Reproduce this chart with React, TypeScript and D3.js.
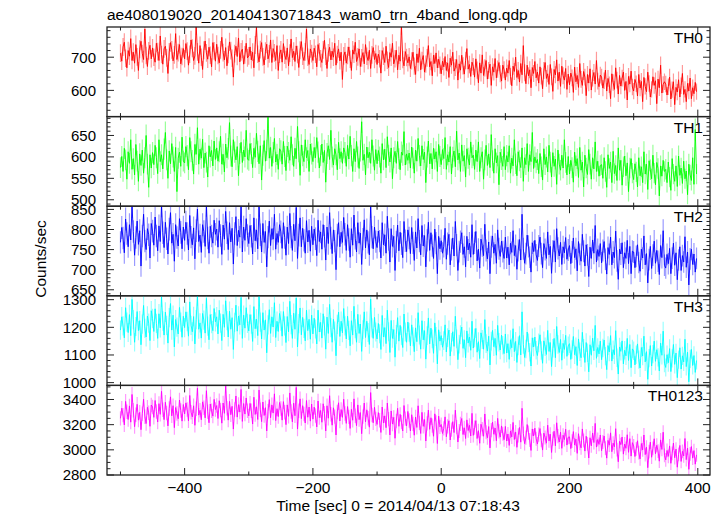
import React from "react";
import * as d3 from "d3";

const TITLE = "ae408019020_20140413071843_wam0_trn_4band_long.qdp";
const X_LABEL = "Time [sec] 0 = 2014/04/13 07:18:43";
const Y_LABEL = "Counts/sec";
const BIN_START = -500;
const BIN_SIZE = 2;
const X_MAJOR = [-400, -200, 0, 200, 400];
const X_MINOR = [-500, -300, -100, 100, 300];
const PANEL_NAMES = ["TH0", "TH1", "TH2", "TH3", "TH0123"];

const TH0 = [
  712, 688, 731, 745, 697, 668, 720, 703, 756, 690, 715, 682, 738, 701, 660, 724, 748, 711, 693, 785, 705, 672, 719, 736, 695,
  728, 700, 685, 742, 717, 690, 764, 708, 679, 725, 733, 698, 651, 716, 744, 722, 689, 707, 771, 693, 714, 738, 680, 702, 726,
  695, 741, 718, 676, 709, 752, 727, 690, 704, 795, 716, 682, 735, 700, 663, 721, 749, 713, 694, 730, 706, 671, 744, 719, 688,
  739, 705, 683, 722, 760, 714, 692, 729, 674, 708, 746, 720, 697, 640, 711, 733, 702, 758, 686, 716, 724, 679, 707, 742, 698,
  704, 731, 692, 715, 668, 737, 790, 709, 686, 723, 744, 701, 677, 718, 739, 695, 710, 752, 684, 726, 713, 690, 735, 660, 709,
  722, 685, 741, 706, 693, 728, 674, 712, 755, 699, 718, 687, 734, 708, 669, 721, 747, 703, 690, 716, 785, 700, 678, 725, 711,
  690, 727, 709, 671, 738, 716, 695, 684, 722, 751, 703, 666, 713, 730, 692, 718, 700, 742, 676, 708, 725, 689, 715, 633, 704,
  716, 682, 705, 731, 694, 660, 722, 709, 745, 687, 701, 725, 672, 698, 714, 680, 738, 703, 690, 721, 666, 707, 729, 693, 711,
  678, 709, 695, 652, 720, 703, 684, 733, 691, 669, 714, 700, 742, 680, 695, 721, 662, 706, 688, 796, 693, 674, 717, 699, 683,
  701, 666, 689, 715, 673, 648, 710, 684, 727, 662, 690, 705, 655, 679, 698, 735, 671, 687, 644, 706, 681, 713, 668, 694, 676,
  650, 688, 671, 702, 660, 683, 639, 697, 676, 715, 658, 669, 693, 631, 680, 661, 706, 674, 649, 690, 726, 664, 678, 642, 685,
  672, 640, 695, 661, 623, 683, 652, 707, 645, 668, 690, 634, 660, 679, 615, 671, 655, 696, 638, 664, 684, 650, 628, 676, 662,
  631, 667, 652, 690, 642, 614, 673, 657, 700, 639, 660, 625, 681, 647, 735, 653, 620, 676, 644, 662, 608, 669, 651, 687, 638,
  655, 622, 671, 643, 605, 660, 684, 636, 650, 618, 678, 641, 597, 663, 647, 692, 628, 655, 612, 673, 644, 631, 666, 603, 649,
  617, 652, 638, 594, 670, 626, 645, 609, 681, 633, 615, 657, 640, 584, 648, 622, 665, 601, 637, 654, 619, 690, 628, 611, 646,
  640, 607, 629, 661, 598, 636, 617, 575, 650, 624, 603, 668, 631, 589, 645, 613, 637, 655, 600, 627, 571, 642, 619, 658, 610,
  598, 633, 620, 583, 648, 607, 627, 566, 639, 612, 596, 655, 621, 580, 603, 641, 615, 629, 560, 634, 608, 676, 592, 618, 626,
  619, 586, 611, 640, 574, 602, 626, 557, 609, 595, 632, 580, 614, 651, 588, 603, 566, 621, 598, 637, 575, 608, 590, 624, 596,
];

const TH1 = [
  575, 601, 566, 620, 593, 548, 612, 585, 640, 571, 596, 558, 629, 590, 543, 607, 580, 616, 562, 598, 650, 583, 529, 605, 574,
  610, 582, 627, 598, 561, 640, 589, 605, 572, 618, 657, 593, 550, 614, 584, 631, 600, 566, 622, 519, 597, 611, 578, 646, 590,
  586, 624, 603, 570, 645, 612, 592, 560, 629, 606, 668, 583, 618, 597, 641, 575, 609, 588, 553, 626, 600, 615, 579, 637, 594,
  621, 590, 612, 648, 583, 606, 565, 630, 598, 619, 680, 602, 577, 640, 611, 593, 624, 556, 608, 634, 587, 616, 600, 662, 595,
  592, 631, 608, 575, 620, 599, 655, 613, 584, 626, 546, 604, 638, 590, 615, 693, 597, 622, 578, 610, 643, 588, 606, 571, 619,
  614, 583, 636, 601, 568, 625, 610, 592, 647, 605, 578, 620, 596, 671, 612, 557, 628, 603, 589, 640, 598, 615, 566, 630, 607,
  589, 622, 598, 645, 611, 574, 603, 630, 587, 615, 541, 608, 626, 594, 662, 600, 581, 619, 605, 570, 634, 596, 612, 585, 621,
  610, 578, 627, 595, 648, 603, 566, 619, 589, 636, 600, 573, 614, 682, 592, 606, 558, 623, 598, 611, 585, 640, 602, 569, 617,
  584, 615, 600, 562, 631, 593, 618, 575, 647, 604, 588, 621, 549, 598, 613, 585, 636, 596, 570, 611, 604, 659, 581, 607, 592,
  609, 574, 623, 597, 562, 616, 590, 643, 603, 579, 626, 594, 611, 540, 600, 637, 584, 608, 572, 620, 595, 612, 566, 629, 601,
  582, 617, 596, 645, 571, 605, 588, 624, 560, 599, 614, 577, 660, 593, 609, 566, 628, 590, 603, 553, 619, 597, 581, 635, 598,
  604, 571, 616, 589, 635, 566, 598, 612, 548, 593, 627, 580, 607, 575, 652, 591, 562, 619, 586, 603, 535, 611, 594, 578, 624,
  570, 603, 588, 626, 562, 597, 579, 640, 584, 556, 612, 591, 575, 621, 543, 598, 582, 631, 566, 605, 589, 657, 573, 600, 586,
  594, 561, 608, 577, 546, 619, 582, 600, 565, 627, 588, 553, 610, 578, 595, 536, 616, 583, 569, 604, 574, 640, 587, 558, 601,
  560, 592, 575, 541, 611, 579, 596, 552, 622, 569, 588, 530, 604, 574, 559, 617, 583, 548, 598, 572, 635, 566, 590, 555, 580,
  582, 550, 598, 566, 529, 605, 573, 588, 540, 613, 561, 580, 545, 621, 569, 592, 534, 577, 602, 556, 586, 519, 574, 596, 562,
  547, 584, 565, 530, 598, 556, 577, 540, 612, 560, 583, 524, 591, 570, 549, 604, 562, 535, 587, 573, 509, 579, 555, 592, 566,
  571, 540, 588, 553, 522, 596, 560, 543, 579, 531, 602, 557, 574, 538, 590, 549, 567, 512, 583, 558, 545, 598, 536, 664, 560,
];

const TH2 = [
  768, 805, 779, 742, 826, 790, 757, 812, 774, 858, 795, 736, 780, 821, 763, 797, 709, 784, 838, 771, 750, 802, 787, 729, 815,
  796, 761, 831, 784, 747, 809, 770, 860, 792, 755, 818, 777, 739, 801, 842, 766, 788, 721, 812, 780, 759, 827, 793, 752, 806,
  773, 818, 790, 749, 835, 781, 762, 804, 727, 797, 851, 770, 786, 743, 812, 795, 758, 861, 779, 741, 808, 784, 766, 823, 788,
  801, 756, 822, 785, 738, 811, 776, 845, 792, 750, 817, 769, 803, 714, 790, 832, 760, 798, 781, 859, 744, 806, 773, 827, 785,
  765, 810, 783, 739, 829, 772, 799, 752, 861, 787, 744, 815, 768, 795, 707, 781, 821, 760, 802, 776, 838, 751, 790, 768, 812,
  794, 753, 817, 780, 736, 806, 765, 840, 781, 748, 813, 772, 855, 728, 786, 829, 757, 803, 773, 741, 822, 769, 798, 746, 808,
  762, 801, 777, 735, 823, 770, 794, 751, 812, 783, 724, 806, 765, 842, 779, 740, 799, 771, 700, 786, 817, 757, 793, 768, 830,
  788, 748, 812, 775, 731, 802, 761, 836, 778, 744, 817, 766, 791, 713, 776, 824, 754, 799, 768, 737, 858, 781, 752, 806, 770,
  755, 796, 771, 729, 817, 762, 787, 741, 833, 775, 719, 802, 758, 783, 698, 769, 811, 747, 793, 764, 730, 820, 772, 745, 799,
  779, 740, 805, 767, 723, 794, 754, 827, 771, 737, 810, 759, 785, 707, 773, 818, 748, 792, 760, 728, 801, 766, 690, 783, 752,
  772, 741, 758, 803, 726, 765, 788, 712, 750, 779, 734, 820, 761, 698, 745, 770, 792, 738, 757, 707, 783, 749, 766, 731, 812,
  738, 767, 795, 722, 751, 704, 776, 760, 735, 813, 748, 727, 769, 690, 757, 784, 741, 763, 716, 799, 752, 733, 771, 745, 728,
  781, 729, 756, 712, 766, 743, 797, 735, 760, 701, 748, 775, 724, 838, 752, 716, 740, 786, 758, 731, 694, 767, 745, 773, 737,
  723, 759, 781, 740, 705, 765, 750, 728, 794, 737, 758, 691, 746, 772, 719, 802, 753, 734, 768, 713, 757, 742, 780, 726, 749,
  760, 715, 744, 779, 730, 752, 697, 770, 738, 721, 788, 746, 709, 762, 737, 683, 756, 728, 774, 741, 810, 719, 750, 733, 765,
  717, 748, 770, 726, 689, 755, 738, 781, 712, 744, 730, 796, 722, 676, 751, 739, 767, 705, 742, 728, 773, 715, 758, 690, 746,
  744, 705, 733, 762, 718, 696, 751, 729, 784, 712, 740, 667, 725, 758, 703, 736, 771, 716, 748, 721, 688, 760, 730, 797, 711,
  704, 738, 715, 753, 690, 729, 766, 711, 742, 675, 724, 757, 698, 735, 719, 782, 706, 744, 662, 727, 751, 713, 739, 694, 728,
];

const TH3 = [
  1190, 1238, 1205, 1162, 1271, 1219, 1181, 1246, 1170, 1301, 1228, 1146, 1203, 1257, 1188, 1224, 1137, 1212, 1279, 1196, 1165, 1241, 1215, 1152, 1260,
  1232, 1185, 1267, 1214, 1160, 1249, 1198, 1310, 1223, 1172, 1255, 1207, 1143, 1235, 1286, 1190, 1244, 1129, 1228, 1201, 1176, 1272, 1219, 1164, 1240,
  1199, 1256, 1221, 1168, 1292, 1207, 1184, 1239, 1140, 1228, 1314, 1193, 1216, 1161, 1250, 1226, 1179, 1305, 1204, 1155, 1246, 1213, 1188, 1268, 1220,
  1238, 1176, 1262, 1215, 1152, 1247, 1200, 1296, 1224, 1165, 1258, 1193, 1235, 1120, 1218, 1280, 1186, 1241, 1209, 1308, 1160, 1244, 1197, 1271, 1214,
  1187, 1246, 1212, 1149, 1275, 1195, 1230, 1170, 1312, 1219, 1158, 1253, 1190, 1227, 1108, 1209, 1264, 1178, 1238, 1201, 1289, 1163, 1222, 1185, 1250,
  1223, 1168, 1257, 1205, 1145, 1239, 1184, 1294, 1210, 1160, 1251, 1193, 1306, 1129, 1213, 1270, 1173, 1236, 1196, 1151, 1262, 1188, 1229, 1157, 1244,
  1176, 1233, 1194, 1140, 1262, 1183, 1218, 1161, 1249, 1205, 1121, 1237, 1178, 1283, 1199, 1146, 1229, 1187, 1097, 1211, 1255, 1167, 1222, 1180, 1268,
  1205, 1158, 1240, 1189, 1133, 1224, 1172, 1276, 1195, 1146, 1247, 1178, 1212, 1113, 1191, 1256, 1163, 1222, 1181, 1138, 1302, 1198, 1160, 1236, 1183,
  1158, 1214, 1177, 1120, 1243, 1165, 1199, 1141, 1262, 1184, 1109, 1225, 1160, 1192, 1092, 1174, 1235, 1150, 1207, 1169, 1127, 1248, 1183, 1146, 1219,
  1182, 1133, 1209, 1166, 1112, 1198, 1148, 1253, 1172, 1121, 1224, 1155, 1188, 1085, 1170, 1234, 1140, 1197, 1158, 1106, 1216, 1167, 1068, 1191, 1150,
  1170, 1128, 1152, 1209, 1111, 1163, 1190, 1096, 1146, 1184, 1131, 1240, 1158, 1083, 1139, 1173, 1201, 1124, 1155, 1090, 1187, 1143, 1165, 1117, 1222,
  1125, 1162, 1196, 1110, 1148, 1087, 1180, 1156, 1121, 1228, 1141, 1114, 1168, 1064, 1150, 1189, 1130, 1160, 1099, 1207, 1146, 1118, 1172, 1135, 1105,
  1176, 1107, 1141, 1084, 1155, 1126, 1195, 1112, 1149, 1073, 1133, 1170, 1100, 1256, 1138, 1091, 1122, 1183, 1144, 1110, 1060, 1162, 1129, 1165, 1117,
  1098, 1144, 1173, 1116, 1070, 1151, 1130, 1102, 1189, 1113, 1145, 1058, 1124, 1160, 1090, 1203, 1138, 1109, 1156, 1081, 1142, 1120, 1171, 1095, 1133,
  1141, 1084, 1120, 1167, 1101, 1130, 1062, 1158, 1112, 1090, 1182, 1124, 1073, 1145, 1108, 1039, 1137, 1099, 1161, 1115, 1207, 1088, 1127, 1104, 1150,
  1083, 1125, 1154, 1096, 1047, 1134, 1111, 1170, 1078, 1119, 1101, 1188, 1090, 1031, 1129, 1113, 1151, 1068, 1117, 1097, 1160, 1080, 1138, 1054, 1122,
  1115, 1064, 1101, 1140, 1083, 1053, 1127, 1096, 1168, 1075, 1112, 1012, 1089, 1134, 1060, 1103, 1150, 1077, 1119, 1091, 1042, 1143, 1099, 1186, 1070,
  1055, 1101, 1072, 1123, 1040, 1088, 1138, 1066, 1107, 1018, 1083, 1126, 1049, 1097, 1075, 1157, 1058, 1110, 1003, 1086, 1120, 1062, 1098, 1037, 1080,
];

const TH0123 = [
  3250, 3331, 3276, 3198, 3385, 3302, 3241, 3349, 3220, 3440, 3315, 3184, 3279, 3362, 3236, 3298, 3160, 3287, 3402, 3263, 3209, 3338, 3294, 3187, 3356,
  3340, 3258, 3392, 3305, 3221, 3367, 3282, 3465, 3318, 3240, 3378, 3293, 3190, 3329, 3421, 3270, 3351, 3176, 3336, 3289, 3247, 3396, 3312, 3228, 3360,
  3285, 3373, 3321, 3230, 3432, 3299, 3262, 3350, 3195, 3327, 3490, 3276, 3314, 3239, 3381, 3335, 3254, 3470, 3302, 3215, 3364, 3310, 3268, 3401, 3320,
  3352, 3249, 3390, 3316, 3212, 3372, 3290, 3508, 3331, 3236, 3385, 3279, 3346, 3165, 3320, 3428, 3260, 3359, 3300, 3480, 3226, 3368, 3284, 3412, 3311,
  3270, 3369, 3310, 3205, 3418, 3281, 3342, 3241, 3475, 3318, 3224, 3380, 3273, 3335, 3150, 3306, 3399, 3255, 3357, 3292, 3445, 3232, 3327, 3264, 3376,
  3328, 3236, 3383, 3299, 3200, 3357, 3266, 3452, 3304, 3222, 3371, 3271, 3496, 3165, 3311, 3405, 3248, 3351, 3285, 3213, 3392, 3259, 3340, 3228, 3364,
  3244, 3339, 3273, 3182, 3388, 3256, 3313, 3219, 3366, 3290, 3150, 3350, 3251, 3430, 3283, 3196, 3334, 3264, 3118, 3301, 3374, 3229, 3320, 3258, 3402,
  3289, 3210, 3344, 3262, 3170, 3322, 3235, 3405, 3271, 3192, 3357, 3240, 3296, 3128, 3264, 3372, 3222, 3318, 3251, 3180, 3455, 3277, 3215, 3338, 3246,
  3202, 3296, 3235, 3138, 3340, 3213, 3270, 3176, 3372, 3244, 3118, 3309, 3205, 3258, 3092, 3229, 3330, 3187, 3282, 3220, 3150, 3352, 3248, 3190, 3305,
  3233, 3150, 3279, 3206, 3116, 3261, 3178, 3350, 3215, 3130, 3298, 3187, 3241, 3070, 3210, 3316, 3163, 3255, 3193, 3108, 3286, 3219, 3050, 3268, 3182,
  3201, 3130, 3170, 3262, 3104, 3186, 3231, 3078, 3160, 3224, 3137, 3315, 3180, 3062, 3150, 3207, 3249, 3122, 3175, 3090, 3238, 3153, 3195, 3110, 3290,
  3115, 3176, 3232, 3090, 3152, 3052, 3203, 3164, 3108, 3285, 3140, 3096, 3185, 3015, 3157, 3220, 3124, 3173, 3072, 3250, 3147, 3101, 3190, 3128, 3080,
  3186, 3070, 3126, 3035, 3150, 3103, 3218, 3082, 3142, 3020, 3115, 3178, 3061, 3330, 3130, 3049, 3097, 3201, 3137, 3078, 2995, 3166, 3110, 3172, 3088,
  3046, 3121, 3169, 3075, 2998, 3133, 3098, 3053, 3196, 3071, 3124, 2979, 3088, 3148, 3032, 3215, 3109, 3062, 3140, 3012, 3116, 3081, 3164, 3038, 3100,
  3103, 3010, 3069, 3145, 3038, 3085, 2972, 3128, 3052, 3016, 3166, 3074, 2990, 3108, 3047, 2935, 3096, 3031, 3134, 3058, 3210, 3022, 3082, 3043, 3118,
  2993, 3062, 3110, 3014, 2934, 3075, 3037, 3135, 2985, 3053, 3024, 3168, 3001, 2905, 3068, 3041, 3102, 2966, 3046, 3012, 3120, 2980, 3089, 2950, 3057,
  3031, 2947, 3008, 3072, 2978, 2928, 3050, 2999, 3118, 2962, 3021, 2858, 2986, 3061, 2941, 3012, 3088, 2969, 3036, 2990, 2910, 3079, 3003, 3140, 2956,
  2920, 2995, 2948, 3031, 2893, 2972, 3054, 2937, 3006, 2862, 2964, 3035, 2908, 2988, 2951, 3090, 2922, 3013, 2845, 2968, 3026, 2934, 2994, 2886, 2960,
];

const Y_DOMAINS = [
  [521, 791],
  [485, 694],
  [635, 858],
  [990, 1314],
  [2800, 3512],
];
const Y_MAJOR = [
  [600, 700],
  [500, 550, 600, 650],
  [650, 700, 750, 800, 850],
  [1000, 1100, 1200, 1300],
  [2800, 3000, 3200, 3400],
];
const Y_MINOR_STEP = [20, 10, 10, 20, 50];
const COLORS = ["#ff0000", "#00ff00", "#0000ff", "#00ffff", "#ff00ff"];
const SERIES = [TH0, TH1, TH2, TH3, TH0123];

const W = 724;
const H = 516;
const LEFT = 107;
const RIGHT = 710;
const TOP = 27;
const BOTTOM = 475;
const FONT = "'Liberation Sans', Arial, Helvetica, sans-serif";
const FS = 15.5;
const TICK_FS = 15;
const AXIS = "#222";

export default function App() {
  const x = d3.scaleLinear().domain([-521, 419]).range([LEFT, RIGHT]);
  const ph = (BOTTOM - TOP) / SERIES.length;
  const fmt = (v: number) => (v < 0 ? "\u2212" + Math.abs(v) : String(v));

  return (
    <svg
      width={W}
      height={H}
      style={{ position: "absolute", left: 0, top: 0, background: "#fff" }}
      fontFamily={FONT}
    >
      <defs>
        {SERIES.map((_, i) => (
          <clipPath id={`clip${i}`} key={i}>
            <rect x={LEFT} y={TOP + i * ph} width={RIGHT - LEFT} height={ph} />
          </clipPath>
        ))}
      </defs>
      <text x={LEFT} y={20} fontSize={FS} fill="#000">
        {TITLE}
      </text>
      {SERIES.map((vals, i) => {
        const y0 = TOP + i * ph;
        const y1 = y0 + ph;
        const [d0, d1] = Y_DOMAINS[i];
        const y = d3.scaleLinear().domain([d0, d1]).range([y1, y0]);
        const pts = vals.map((v, k) => [BIN_START + k * BIN_SIZE, v] as [number, number]);
        const line = d3
          .line<[number, number]>()
          .x((p) => x(p[0]))
          .y((p) => y(p[1]))(pts);
        const err = pts
          .map((p) => {
            const e = Math.sqrt(p[1]);
            return `M${x(p[0]).toFixed(2)},${y(p[1] - e).toFixed(2)}V${y(p[1] + e).toFixed(2)}`;
          })
          .join("");
        const step = Y_MINOR_STEP[i];
        const minor = d3
          .range(Math.ceil(d0 / step) * step, d1 + 0.001, step)
          .filter((v) => !Y_MAJOR[i].includes(v));
        return (
          <g key={i}>
            <g clipPath={`url(#clip${i})`}>
              <path d={err} stroke={COLORS[i]} strokeOpacity={0.4} strokeWidth={1.2} fill="none" />
              <path d={line || ""} stroke={COLORS[i]} strokeWidth={0.9} fill="none" />
            </g>
            <rect x={LEFT} y={y0} width={RIGHT - LEFT} height={ph} fill="none" stroke={AXIS} strokeWidth={1.3} />
            {Y_MAJOR[i].map((v) => (
              <g key={"M" + v}>
                <line x1={LEFT} x2={LEFT + 7} y1={y(v)} y2={y(v)} stroke={AXIS} strokeWidth={1} />
                <line x1={RIGHT} x2={RIGHT - 7} y1={y(v)} y2={y(v)} stroke={AXIS} strokeWidth={1} />
                <text x={96} y={y(v)} dy="0.36em" textAnchor="end" fontSize={TICK_FS} fill="#000">
                  {v}
                </text>
              </g>
            ))}
            {minor.map((v) => (
              <g key={"m" + v}>
                <line x1={LEFT} x2={LEFT + 3.5} y1={y(v)} y2={y(v)} stroke={AXIS} strokeWidth={1} />
                <line x1={RIGHT} x2={RIGHT - 3.5} y1={y(v)} y2={y(v)} stroke={AXIS} strokeWidth={1} />
              </g>
            ))}
            {X_MAJOR.map((t) => (
              <g key={"xM" + t}>
                <line x1={x(t)} x2={x(t)} y1={y0} y2={y0 + 7} stroke={AXIS} strokeWidth={1} />
                <line x1={x(t)} x2={x(t)} y1={y1} y2={y1 - 7} stroke={AXIS} strokeWidth={1} />
              </g>
            ))}
            {X_MINOR.map((t) => (
              <g key={"xm" + t}>
                <line x1={x(t)} x2={x(t)} y1={y0} y2={y0 + 3.5} stroke={AXIS} strokeWidth={1} />
                <line x1={x(t)} x2={x(t)} y1={y1} y2={y1 - 3.5} stroke={AXIS} strokeWidth={1} />
              </g>
            ))}
            <text x={703} y={y0 + 16} textAnchor="end" fontSize={FS} fill="#000">
              {PANEL_NAMES[i]}
            </text>
          </g>
        );
      })}
      {X_MAJOR.map((t) => (
        <text key={t} x={x(t)} y={493} textAnchor="middle" fontSize={FS} fill="#000">
          {fmt(t)}
        </text>
      ))}
      <text x={398} y={511} textAnchor="middle" fontSize={FS} fill="#000">
        {X_LABEL}
      </text>
      <text transform={`translate(46,259) rotate(-90)`} textAnchor="middle" fontSize={FS} fill="#000">
        {Y_LABEL}
      </text>
    </svg>
  );
}
